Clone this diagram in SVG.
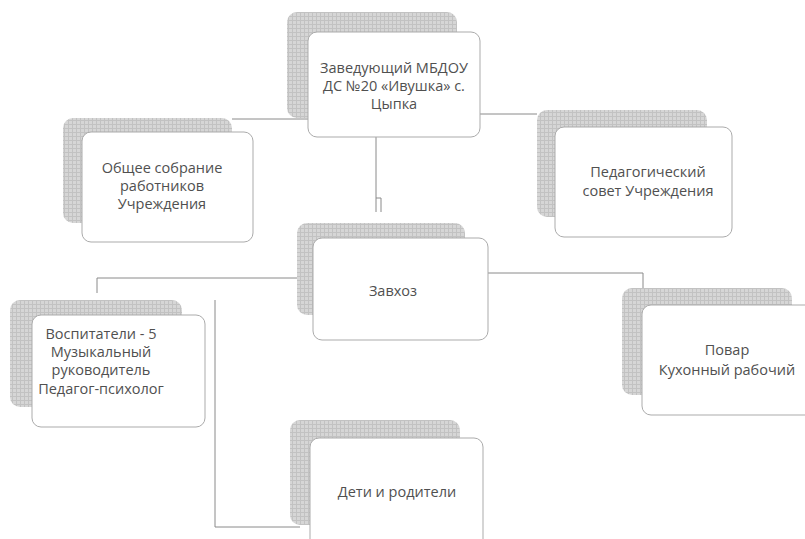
<svg xmlns="http://www.w3.org/2000/svg" width="805" height="539" viewBox="0 0 805 539">
  <defs>
    <pattern id="hatch" width="4" height="4" patternUnits="userSpaceOnUse">
      <rect width="4" height="4" fill="#d6d6d6"/>
      <path d="M0 0.5H4M0.5 0V4" stroke="#c2c2c2" stroke-width="1"/>
    </pattern>
    <style>
      .sh { fill: url(#hatch); }
      .bx { fill: #ffffff; stroke: #ababab; stroke-width: 1; }
      .t { font-family: "Open Sans", "Liberation Sans", sans-serif; font-size: 14.5px; fill: #505050; text-anchor: middle; }
      .c { fill: none; stroke: #8a8a8a; stroke-width: 1; }
    </style>
  </defs>
  <rect width="805" height="539" fill="#ffffff"/>

  <g id="connectors">
    <path class="c" d="M308 119H232"/>
    <path class="c" d="M480 114H537"/>
    <path class="c" d="M376 137V212"/>
    <path class="c" d="M376 198H381V212"/>
    <path class="c" d="M297 278H97V293"/>
    <path class="c" d="M488 273H643V288"/>
    <path class="c" d="M215 300V527H300"/>
  </g>

  <g id="head">
    <rect class="sh" x="287" y="12" width="170" height="106" rx="10"/>
    <rect class="bx" x="308" y="32" width="172" height="105" rx="9"/>
    <text class="t" x="394" y="73">Заведующий МБДОУ</text>
    <text class="t" x="394" y="91">ДС №20 «Ивушка» с.</text>
    <text class="t" x="394" y="109">Цыпка</text>
  </g>

  <g id="general-meeting">
    <rect class="sh" x="63" y="118" width="169" height="105" rx="10"/>
    <rect class="bx" x="82" y="132" width="171" height="110" rx="9"/>
    <text class="t" x="162" y="173">Общее собрание</text>
    <text class="t" x="162" y="191">работников</text>
    <text class="t" x="162" y="209">Учреждения</text>
  </g>

  <g id="ped-council">
    <rect class="sh" x="537" y="110" width="170" height="107" rx="10"/>
    <rect class="bx" x="555" y="127" width="177" height="110" rx="9"/>
    <text class="t" x="648" y="177">Педагогический</text>
    <text class="t" x="648" y="196">совет Учреждения</text>
  </g>

  <g id="zavhoz">
    <rect class="sh" x="297" y="223" width="168" height="92" rx="10"/>
    <rect class="bx" x="313" y="238" width="175" height="102" rx="9"/>
    <text class="t" x="393" y="296">Завхоз</text>
  </g>

  <g id="teachers">
    <rect class="sh" x="10" y="300" width="172" height="107" rx="10"/>
    <rect class="bx" x="32" y="315" width="173" height="112" rx="9"/>
    <text class="t" x="101" y="339">Воспитатели - 5</text>
    <text class="t" x="101" y="357">Музыкальный</text>
    <text class="t" x="101" y="375">руководитель</text>
    <text class="t" x="101" y="394">Педагог-психолог</text>
  </g>

  <g id="kitchen">
    <rect class="sh" x="622" y="288" width="170" height="107" rx="10"/>
    <rect class="bx" x="642" y="305" width="175" height="110" rx="9"/>
    <text class="t" x="727" y="355">Повар</text>
    <text class="t" x="727" y="375">Кухонный рабочий</text>
  </g>

  <g id="children">
    <rect class="sh" x="290" y="420" width="170" height="105" rx="10"/>
    <rect class="bx" x="310" y="438" width="173" height="110" rx="9"/>
    <text class="t" x="397" y="497">Дети и родители</text>
  </g>
</svg>
